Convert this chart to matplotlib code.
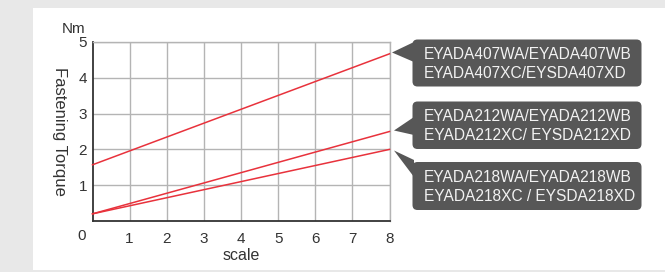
import matplotlib
matplotlib.use("Agg")
import matplotlib.pyplot as plt
from matplotlib.patches import FancyBboxPatch, Polygon, Rectangle

# ---- data ----
scale = [0, 8]
torque_407 = [1.57, 4.67]
torque_212 = [0.2, 2.5]
torque_218 = [0.2, 2.0]
series = [torque_407, torque_212, torque_218]
x_ticks = [1, 2, 3, 4, 5, 6, 7, 8]
y_ticks = [1, 2, 3, 4, 5]
labels = [
    "EYADA407WA/EYADA407WB\nEYADA407XC/EYSDA407XD",
    "EYADA212WA/EYADA212WB\nEYADA212XC/ EYSDA212XD",
    "EYADA218WA/EYADA218WB\nEYADA218XC / EYSDA218XD",
]

W, H = 665, 272
plt.rcParams['font.family'] = ['Liberation Sans', 'DejaVu Sans']
fig = plt.figure(figsize=(W / 100, H / 100), dpi=100)
fig.patch.set_facecolor("#e8e8e8")

# overlay in pixel coordinates
ov = fig.add_axes([0, 0, 1, 1], zorder=0)
ov.set_xlim(0, W)
ov.set_ylim(H, 0)
ov.axis("off")
ov.add_patch(Rectangle((33, 8), W - 33, 262, facecolor="white", edgecolor="none"))

# callout boxes
boxes = [(39.5, 86.5), (101.5, 149), (162, 210)]
pointers = [
    [(392, 52.5), (414, 42), (414, 62)],
    [(394, 130.5), (414, 117), (414, 135)],
    [(394, 150.5), (414, 160), (414, 177)],
]
box_col = "#575757"
for (y0, y1), ptr, lab in zip(boxes, pointers, labels):
    ov.add_patch(FancyBboxPatch((412.5, y0), 229, y1 - y0,
                                boxstyle="round,pad=0,rounding_size=5",
                                facecolor=box_col, edgecolor="none"))
    ov.add_patch(Polygon(ptr, closed=True, facecolor=box_col, edgecolor="none"))
    ov.text(424, (y0 + y1) / 2 + 1, lab, color="#f2f2f2", fontsize=11.2,
            ha="left", va="center", linespacing=1.32)

# main chart
ax = fig.add_axes([92.5 / W, 1 - 221 / H, 297 / W, 179 / H], zorder=1)
ax.set_facecolor("white")
for s in series:
    ax.plot(scale, s, color="#e8323c", lw=1.1, zorder=3, clip_on=False)
ax.set_xlim(0, 8)
ax.set_ylim(0, 5)
ax.set_xticks(x_ticks)
ax.set_yticks(y_ticks)
ax.grid(True, color="#b4b4b4", lw=1.0)
ax.tick_params(length=0, labelsize=11, labelcolor="#333333")
ax.tick_params(axis="x", pad=8)
ax.tick_params(axis="y", pad=4)
for sp in ["top", "right"]:
    ax.spines[sp].set_color("#b4b4b4")
    ax.spines[sp].set_linewidth(1.0)
for sp in ["left", "bottom"]:
    ax.spines[sp].set_color("#333333")
    ax.spines[sp].set_linewidth(1.3)
ax.annotate("0", xy=(0, 0), xytext=(-11, -15), textcoords="offset pixels",
            ha="center", va="center", fontsize=11, color="#333333")
ax.set_xlabel("scale", fontsize=11.5, color="#333333", labelpad=1)
ax.set_ylabel("Fastening Torque", fontsize=12, color="#333333", rotation=270,
              labelpad=19, va="bottom")
ax.annotate("Nm", xy=(0, 5), xytext=(-19, 13), textcoords="offset pixels",
            ha="center", va="center", fontsize=11, color="#333333")

fig.savefig("out.png", dpi=100)
